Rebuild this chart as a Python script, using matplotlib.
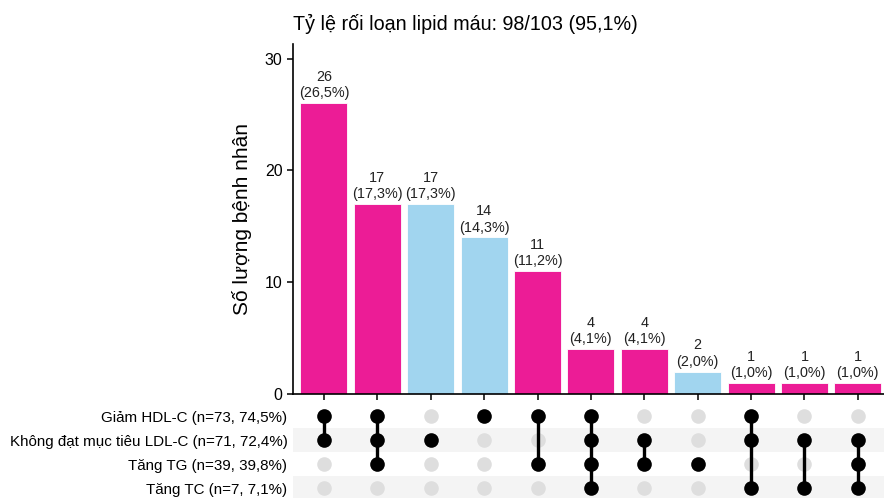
import matplotlib
matplotlib.use("Agg")
import matplotlib.pyplot as plt
import numpy as np

plt.rcParams['font.family'] = ['Liberation Sans', 'DejaVu Sans']

# intersection counts, in plotted order
counts = [26, 17, 17, 14, 11, 4, 4, 2, 1, 1, 1]
total = 98
# which sets make up each intersection (row index into set_names)
members = [
    [0, 1],
    [0, 1, 2],
    [1],
    [0],
    [0, 2],
    [0, 1, 2, 3],
    [1, 2],
    [2],
    [0, 1, 3],
    [1, 3],
    [1, 2, 3],
]
set_names = ["Giảm HDL-C", "Không đạt mục tiêu LDL-C", "Tăng TG", "Tăng TC"]
set_sizes = [73, 71, 39, 7]
set_pcts = ["74,5%", "72,4%", "39,8%", "7,1%"]
title = "Tỷ lệ rối loạn lipid máu: 98/103 (95,1%)"

pink = "#EC1C96"
blue = "#A1D5EF"

fig = plt.figure(figsize=(8.84, 4.98), dpi=100)
W, H = 884, 498

def px_axes(x0, y0, x1, y1):
    return fig.add_axes([x0 / W, 1 - y1 / H, (x1 - x0) / W, (y1 - y0) / H])

ax = px_axes(293, 44, 884, 394)
ax_m = px_axes(293, 404, 884, 498)

x = np.arange(len(counts))
colors = [blue if len(m) == 1 else pink for m in members]
ax.bar(x, counts, width=0.88, color=colors, edgecolor="white", linewidth=0.6)
for xi, c in zip(x, counts):
    pct = f"{100 * c / total:.1f}".replace(".", ",")
    ax.text(xi, c + 0.25, f"{c}\n({pct}%)", ha="center", va="bottom",
            fontsize=10.4, linespacing=1.22, color="#222222")

xlim = (-0.58, len(counts) - 0.51)
ax.set_xlim(*xlim)
ax.set_ylim(0, 31.3)
ax.set_yticks([0, 10, 20, 30])
ax.set_xticks(x)
ax.set_xticklabels([])
ax.tick_params(axis="both", direction="out", length=4, width=1.1, labelsize=11.5,
               colors="black")
for s in ["top", "right"]:
    ax.spines[s].set_visible(False)
for s in ["left", "bottom"]:
    ax.spines[s].set_linewidth(1.2)
ax.set_ylabel("Số lượng bệnh nhân", fontsize=15, labelpad=9)
ax.set_title(title, fontsize=14.2, pad=10, loc="left")

# intersection matrix
n_rows = len(set_names)
ax_m.set_xlim(*xlim)
ax_m.set_ylim(n_rows - 0.6, -0.5)
for r in range(n_rows):
    if r % 2 == 1:
        ax_m.axhspan(r - 0.5, r + 0.5, color="#F4F4F4", zorder=0, lw=0)
for xi in x:
    ax_m.plot([xi] * n_rows, range(n_rows), "o", color="#DEDEDE",
              markersize=10.5, zorder=1, markeredgewidth=0)
for xi, m in zip(x, members):
    ax_m.plot([xi, xi], [min(m), max(m)], color="black", lw=2.4, zorder=2)
    ax_m.plot([xi] * len(m), m, "o", color="black", markersize=10.5,
              zorder=3, markeredgewidth=0)
ax_m.set_yticks(range(n_rows))
ax_m.set_yticklabels([f"{n} (n={s}, {p})" for n, s, p in
                      zip(set_names, set_sizes, set_pcts)], fontsize=10.9)
ax_m.tick_params(axis="y", length=0, pad=4)
ax_m.set_xticks([])
for s in ax_m.spines.values():
    s.set_visible(False)

fig.savefig("out.png", dpi=100)
